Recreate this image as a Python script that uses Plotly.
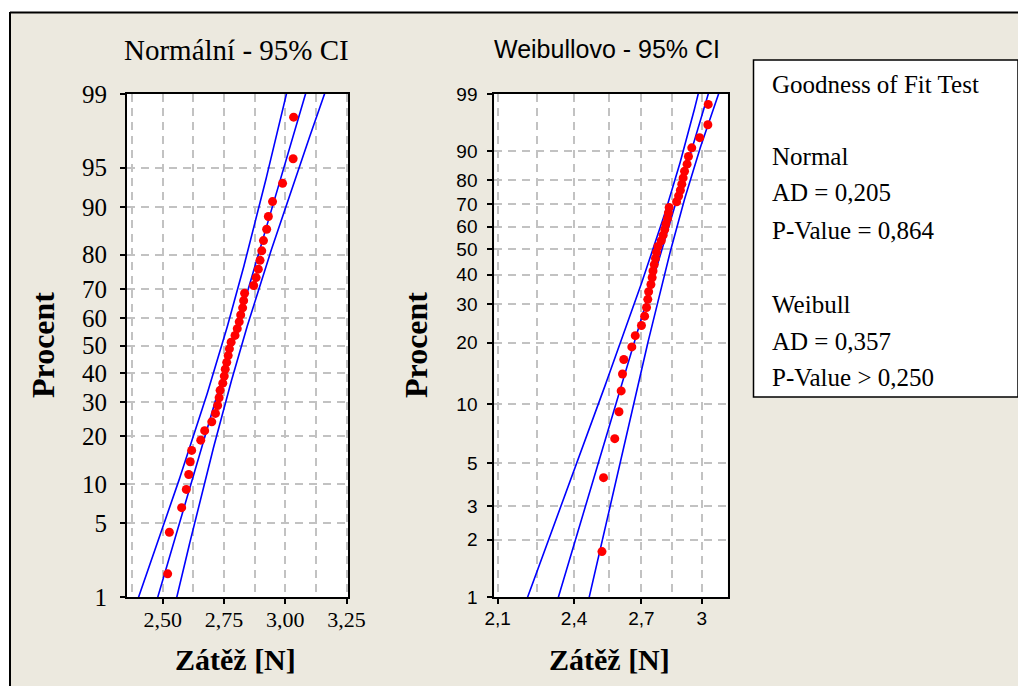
import numpy as np
import plotly.graph_objects as go
from statistics import NormalDist

W, H = 1018, 686

# Measured load values [N], sorted ascending (n = 40)
load = [2.520, 2.527, 2.577, 2.596, 2.606, 2.612, 2.618, 2.655, 2.671, 2.700,
        2.715, 2.724, 2.730, 2.734, 2.745, 2.751, 2.755, 2.761, 2.767, 2.772,
        2.779, 2.795, 2.804, 2.812, 2.818, 2.826, 2.830, 2.834, 2.871, 2.881,
        2.890, 2.897, 2.904, 2.911, 2.924, 2.931, 2.948, 2.989, 3.032, 3.034]

# Probability-axis tick positions (percent)
norm_pct_ticks = [1, 5, 10, 20, 30, 40, 50, 60, 70, 80, 90, 95, 99]
weib_pct_ticks = [1, 2, 3, 5, 10, 20, 30, 40, 50, 60, 70, 80, 90, 99]

# Load-axis ticks and labels (decimal comma)
norm_x_ticks = [2.50, 2.75, 3.00, 3.25]
norm_x_labels = ["2,50", "2,75", "3,00", "3,25"]
norm_x_minor = [2.375, 2.625, 2.875, 3.125]
weib_x_ticks = [2.1, 2.4, 2.7, 3.0]
weib_x_labels = ["2,1", "2,4", "2,7", "3"]
weib_x_minor = [2.25, 2.55, 2.85]

# Goodness-of-fit summary text
gof_title = "Goodness of Fit Test"
gof_normal = ["Normal", "AD = 0,205", "P-Value = 0,864"]
gof_weibull = ["Weibull", "AD = 0,357", "P-Value > 0,250"]

BEIGE = "#ECE9DF"
GRID = "#C2C2C2"
SERIF = "'Liberation Serif', 'Times New Roman', serif"
SANS = "'Liberation Sans', Arial, sans-serif"

nd = NormalDist()


def zq(p):
    return nd.inv_cdf(p)


def wq(p):
    return float(np.log(-np.log(1.0 - p)))


def px(xpix):
    return xpix / W


def py(ypix):
    return 1.0 - ypix / H


x = np.array(load)
n = len(x)
ranks = np.arange(1, n + 1)
pp = (ranks - 0.3) / (n + 0.4)          # median ranks (Bernard)

# ---- Normal fit (ML) with 95% CI on percentiles ----
mu = x.mean()
sd = x.std()
zg = np.linspace(-2.8, 2.8, 300)
fit_n = mu + zg * sd
se_n = sd * np.sqrt((1.0 + zg ** 2 / 2.0) / n)
lo_n = fit_n - 1.96 * se_n
hi_n = fit_n + 1.96 * se_n
z_pts = np.array([zq(p) for p in pp])

# ---- Weibull fit (ML) with 95% CI on percentiles ----
lx = np.log(x)


def score(b):
    xb = x ** b
    return np.sum(xb * lx) / np.sum(xb) - 1.0 / b - lx.mean()


a, b = 1.0, 300.0
for _ in range(200):
    m = 0.5 * (a + b)
    if score(a) * score(m) <= 0:
        b = m
    else:
        a = m
beta = 0.5 * (a + b)
eta = np.mean(x ** beta) ** (1.0 / beta)
u, s = np.log(eta), 1.0 / beta
wg = np.linspace(-5.5, 2.0, 300)
ly = u + wg * s
se_w = s * np.sqrt((1.1087 - 0.5140 * wg + 0.6079 * wg ** 2) / n)
fit_w = np.exp(ly)
lo_w = np.exp(ly - 1.96 * se_w)
hi_w = np.exp(ly + 1.96 * se_w)
w_pts = np.array([wq(p) for p in pp])

fig = go.Figure()

line_style = dict(color="#0000FF", width=1.6)
for xs in (lo_n, fit_n, hi_n):
    fig.add_trace(go.Scatter(x=xs, y=zg, mode="lines", line=line_style,
                             hoverinfo="skip", showlegend=False,
                             xaxis="x", yaxis="y"))
fig.add_trace(go.Scatter(x=x, y=z_pts, mode="markers",
                         marker=dict(color="#FF0000", size=9, line=dict(width=0)),
                         showlegend=False, xaxis="x", yaxis="y"))

for xs in (lo_w, fit_w, hi_w):
    fig.add_trace(go.Scatter(x=xs, y=wg, mode="lines", line=line_style,
                             hoverinfo="skip", showlegend=False,
                             xaxis="x2", yaxis="y2"))
fig.add_trace(go.Scatter(x=x, y=w_pts, mode="markers",
                         marker=dict(color="#FF0000", size=9, line=dict(width=0)),
                         showlegend=False, xaxis="x2", yaxis="y2"))

axis_common = dict(showline=True, linecolor="black", linewidth=2, mirror=True,
                   ticks="outside", ticklen=5, tickwidth=1.5, tickcolor="black",
                   showgrid=True, gridcolor=GRID, gridwidth=1.5,
                   griddash="8px,6px", zeroline=False, automargin=False)

minor_grid = dict(showgrid=True, gridcolor=GRID, gridwidth=1.5,
                  griddash="8px,6px", ticks="")

ydom = [py(597), py(94)]

fig.update_layout(
    width=W, height=H, autosize=False,
    margin=dict(l=0, r=0, t=0, b=0, pad=0, autoexpand=False),
    paper_bgcolor=BEIGE, plot_bgcolor="white",
    showlegend=False,
    xaxis=dict(axis_common, domain=[px(127), px(348)], range=[2.354, 3.256],
               tickmode="array", tickvals=norm_x_ticks, ticktext=norm_x_labels,
               tickfont=dict(family=SERIF, size=22, color="black"),
               ticklabelstandoff=-3,
               minor=dict(minor_grid, tickmode="array", tickvals=norm_x_minor),
               anchor="y"),
    yaxis=dict(axis_common, domain=ydom, range=[zq(0.01), zq(0.99)],
               tickmode="array", tickvals=[zq(p / 100) for p in norm_pct_ticks],
               ticktext=[str(p) for p in norm_pct_ticks],
               tickfont=dict(family=SERIF, size=25, color="black"),
               ticklabelstandoff=8, anchor="x"),
    xaxis2=dict(axis_common, domain=[px(494.3), px(727.7)], type="log",
                range=[np.log10(2.088), np.log10(3.139)],
                tickmode="array", tickvals=weib_x_ticks, ticktext=weib_x_labels,
                tickfont=dict(family=SANS, size=19, color="black"),
                ticklabelstandoff=-2,
                minor=dict(minor_grid, tickmode="array", tickvals=weib_x_minor),
                anchor="y2"),
    yaxis2=dict(axis_common, domain=ydom, range=[wq(0.01), wq(0.99)],
                tickmode="array", tickvals=[wq(p / 100) for p in weib_pct_ticks],
                ticktext=[str(p) for p in weib_pct_ticks],
                tickfont=dict(family=SANS, size=19, color="black"),
                ticklabelstandoff=6, anchor="x2"),
)

# Window frame: white strips at top/left with a dark edge
shapes = [
    dict(type="rect", xref="paper", yref="paper", x0=0, x1=1, y0=py(12), y1=1,
         fillcolor="white", line=dict(width=0), layer="below"),
    dict(type="rect", xref="paper", yref="paper", x0=0, x1=px(10), y0=0, y1=1,
         fillcolor="white", line=dict(width=0), layer="below"),
    dict(type="line", xref="paper", yref="paper", x0=px(10), x1=1.0,
         y0=py(12.5), y1=py(12.5), line=dict(color="black", width=2)),
    dict(type="line", xref="paper", yref="paper", x0=px(10), x1=px(10),
         y0=0.0, y1=py(12), line=dict(color="black", width=2)),
    # Goodness-of-fit box (runs off the right edge)
    dict(type="rect", xref="paper", yref="paper", x0=px(753.5), x1=1.0,
         y0=py(397), y1=py(60), fillcolor="white",
         line=dict(color="black", width=1.5)),
]
fig.update_layout(shapes=shapes)

ann = []


def text(t, xpix, ypix, family, size, bold=False, angle=0, xanchor="center"):
    ann.append(dict(text=f"<b>{t}</b>" if bold else t, x=px(xpix), y=py(ypix),
                    xref="paper", yref="paper", showarrow=False,
                    xanchor=xanchor, yanchor="middle", textangle=angle,
                    font=dict(family=family, size=size, color="black")))


text("Normální - 95% CI", 236, 50, SERIF, 29)
text("Weibullovo - 95% CI", 607, 49, SANS, 25)
text("Procent", 43, 345, SERIF, 32, bold=True, angle=-90)
text("Procent", 416, 345, SERIF, 32, bold=True, angle=-90)
text("Zátěž [N]", 235, 659, SERIF, 30, bold=True)
text("Zátěž [N]", 609, 659, SERIF, 30, bold=True)

text(gof_title, 770, 85, SERIF, 25, xanchor="left")
for i, t in enumerate(gof_normal):
    text(t, 770, 156 + 37 * i, SERIF, 25, xanchor="left")
for i, t in enumerate(gof_weibull):
    text(t, 770, 304 + 37 * i, SERIF, 25, xanchor="left")

fig.update_layout(annotations=ann)

fig.write_html(
    "out.html",
    post_script="document.body.style.margin='0';"
                "document.body.style.overflow='hidden';",
)
